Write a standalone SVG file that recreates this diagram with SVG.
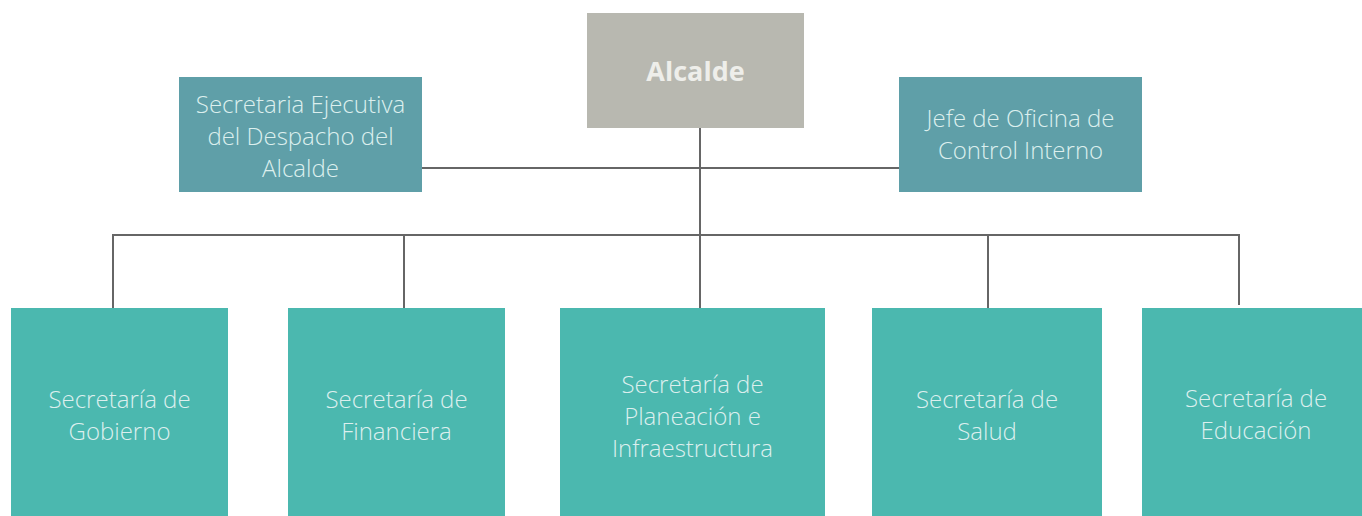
<svg xmlns="http://www.w3.org/2000/svg" width="1362" height="516" viewBox="0 0 1362 516">
<style>
.t{font-family:"Open Sans","Noto Sans","Liberation Sans",sans-serif;font-weight:300;font-size:24px;fill:#DCEFEE;text-anchor:middle}
.b{font-family:"Open Sans","Noto Sans","Liberation Sans",sans-serif;font-weight:700;font-size:27px;fill:#EEEEEA;text-anchor:middle}
.c{fill:none;stroke:#666666;stroke-width:2}
.gray{fill:#B8B8B0}
.mid{fill:#5F9FA8}
.low{fill:#4BB8AF}
</style>
<rect width="1362" height="516" fill="#FFFFFF"/>
<g id="connectors">
<path class="c" d="M700 128 V308"/>
<path class="c" d="M422 168 H899"/>
<path class="c" d="M113 308 V235 H1239 V305"/>
<path class="c" d="M404 235 V308"/>
<path class="c" d="M988 235 V308"/>
</g>
<g id="alcalde">
<rect class="gray" x="587" y="13" width="217" height="115"/>
<text class="b" x="695.5" y="81">Alcalde</text>
</g>
<g id="secretaria-ejecutiva">
<rect class="mid" x="179" y="77" width="243" height="115"/>
<text class="t" x="300.5" y="113">Secretaria Ejecutiva</text>
<text class="t" x="300.5" y="145">del Despacho del</text>
<text class="t" x="300.5" y="177">Alcalde</text>
</g>
<g id="control-interno">
<rect class="mid" x="899" y="77" width="243" height="115"/>
<text class="t" x="1020.5" y="127">Jefe de Oficina de</text>
<text class="t" x="1020.5" y="159">Control Interno</text>
</g>
<g id="gobierno">
<rect class="low" x="11" y="308" width="217" height="208"/>
<text class="t" x="119.5" y="408">Secretaría de</text>
<text class="t" x="119.5" y="440">Gobierno</text>
</g>
<g id="financiera">
<rect class="low" x="288" y="308" width="217" height="208"/>
<text class="t" x="396.5" y="408">Secretaría de</text>
<text class="t" x="396.5" y="440">Financiera</text>
</g>
<g id="planeacion">
<rect class="low" x="560" y="308" width="265" height="208"/>
<text class="t" x="692.5" y="393">Secretaría de</text>
<text class="t" x="692.5" y="425">Planeación e</text>
<text class="t" x="692.5" y="457">Infraestructura</text>
</g>
<g id="salud">
<rect class="low" x="872" y="308" width="230" height="208"/>
<text class="t" x="987" y="408">Secretaría de</text>
<text class="t" x="987" y="440">Salud</text>
</g>
<g id="educacion">
<rect class="low" x="1142" y="308" width="220" height="208"/>
<text class="t" x="1256" y="407">Secretaría de</text>
<text class="t" x="1256" y="439">Educación</text>
</g>
</svg>
